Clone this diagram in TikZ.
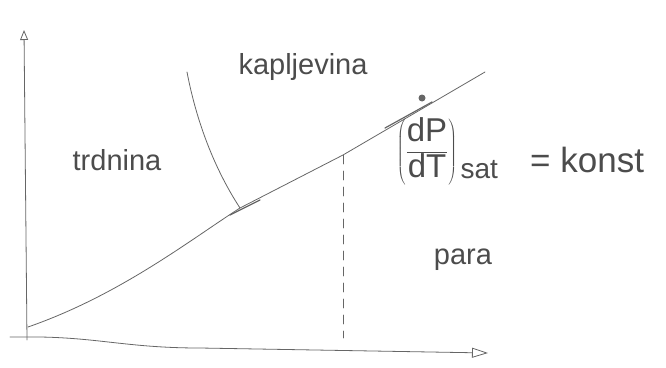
\documentclass[tikz,border=0pt]{standalone}
\usepackage{fontspec}
\setmainfont{Liberation Sans}
\usetikzlibrary{arrows.meta}
\begin{document}
\begin{tikzpicture}[x=1pt,y=-1pt,
  pencil/.style={draw=black!60, line width=0.8pt, line cap=round},
  lbl/.style={font=\fontsize{29}{32}\selectfont, text=black!70, inner sep=0pt}]
\useasboundingbox (0,0) rectangle (666,367);
% axes
\coordinate (O) at (27,337);
\coordinate (ytop) at (24,30);
\coordinate (xend) at (488,353);
\draw[pencil, -{Triangle[open,length=10pt,width=8pt]}] (27,340) -- (ytop);
\draw[pencil, -{Triangle[open,length=16pt,width=10pt]}] (10,337) -- (40,337) .. controls (100,338) and (130,348) .. (200,348) -- (xend);
% curves
\coordinate (start) at (28,327);
\coordinate (tp) at (240,208);
\coordinate (dtop) at (343,155);
\coordinate (cp) at (422,98);
\coordinate (lend) at (485,72);
\draw[pencil] (start) .. controls (120,295) and (190,240) .. (tp) -- (dtop) -- (lend);
\draw[pencil] (187,72) .. controls (200,140) and (225,185) .. (tp);
\draw[pencil, line width=1.2pt] (230,215) -- (260,200);
\draw[pencil, line width=1.2pt] (385,128) -- (432,102);
\fill[black!60] (cp) circle (3.5pt);
% dashed line
\coordinate (dbot) at (343,338);
\draw[pencil, dashed, dash pattern=on 9pt off 7pt] (dtop) -- (dbot);
% labels
\node[lbl] (liq) at (303,67) {kapljevina};
\node[lbl] (sol) at (117,160) {trdnina};
\node[lbl] (vap) at (463,260) {para};
\node[lbl, font=\fontsize{33}{36}\selectfont] (frac) at (427,151) {$\displaystyle\left(\frac{\hbox{dP}}{\hbox{dT}}\right)$};
\node[lbl, font=\fontsize{28}{30}\selectfont, anchor=base west] (sat) at ([xshift=3pt]frac.east |- 0,178) {sat};
\node[lbl, font=\fontsize{35}{38}\selectfont, anchor=base west] (konst) at (530,172) {= konst};
\end{tikzpicture}
\end{document}
